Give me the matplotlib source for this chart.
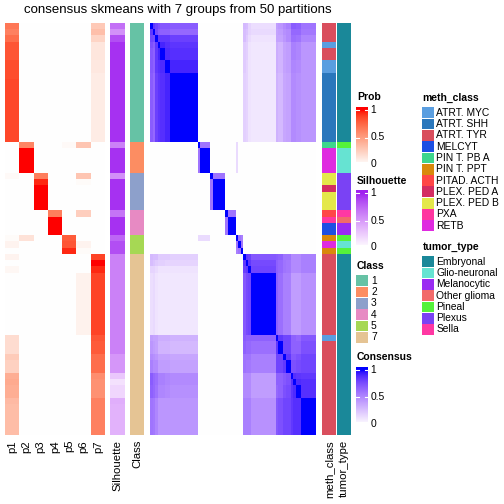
import numpy as np
import matplotlib
matplotlib.use("Agg")
import matplotlib.pyplot as plt
from matplotlib.colors import ListedColormap, to_rgb
from matplotlib.patches import Rectangle

plt.rcParams['font.family'] = ['Liberation Sans', 'DejaVu Sans']

# ---- data (66 samples, top to bottom) ----
classes = [1]*19 + [2]*5 + [3]*6 + [4]*4 + [5]*3 + [7]*29

p1 = ([0.68, 0.64, 0.72, 0.82, 0.82, 0.82, 0.85, 0.85, 0.85] + [0.87]*10
      + [0]*5 + [0.03] + [0]*5 + [0]*4 + [0.02, 0.06, 0]
      + [0.06, 0, 0.04] + [0]*10 + [0.18]*3 + [0.27, 0.24, 0.24]
      + [0.42, 0.44, 0.42, 0.42] + [0.36] + [0.34]*5)
p2 = [0]*19 + [0.62, 1, 1, 1, 1] + [0]*6 + [0]*4 + [0.15, 0, 0] + [0]*29
p3 = [0]*19 + [0]*5 + [0.65, 0.95, 1, 1, 1, 1] + [0]*4 + [0]*3 + [0]*29
p4 = [0]*19 + [0]*5 + [0]*6 + [0.65, 1, 1, 1] + [0]*3 + [0]*29
p5 = [0]*19 + [0.03, 0, 0, 0, 0] + [0]*6 + [0]*4 + [0.8, 0.82, 0.95] + [0]*29
p6 = ([0]*19 + [0.3, 0, 0, 0, 0] + [0.3, 0.02, 0, 0, 0, 0] + [0.25, 0, 0, 0]
      + [0, 0.06, 0.02] + [0]*3 + [0.07]*10 + [0]*16)
p7 = ([0.28, 0.33, 0.22, 0.13, 0.13, 0.13, 0.12, 0.12] + [0.1]*11
      + [0]*5 + [0]*6 + [0]*4 + [0]*3
      + [0.88, 1.0, 0.95] + [0.88]*10 + [0.82, 0.8, 0.8] + [0.72]*3
      + [0.58, 0.56, 0.56, 0.56] + [0.64]*6)

silhouette = ([0.70, 0.55, 0.85] + [0.95]*16 + [0.62] + [0.95]*4
              + [0.55] + [0.95]*5 + [0.68] + [0.95]*3 + [0.75, 0.85, 0.85]
              + [0.62]*16 + [0.52]*3 + [0.28, 0.15, 0.2, 0.2] + [0.4] + [0.38]*5)

meth_class = (['ATRT. TYR']*3 + ['ATRT. MYC'] + ['ATRT. TYR']*2 + ['ATRT. MYC']*2
              + ['ATRT. SHH']*11 + ['PIN T. PB A'] + ['RETB']*4
              + ['PLEX. PED B']*2 + ['PLEX. PED A'] + ['PLEX. PED B']*3
              + ['PITAD. ACTH', 'PXA'] + ['MELCYT']*2
              + ['PIN T. PPT', 'RETB', 'PIN T. PPT']
              + ['ATRT. TYR']*13 + ['ATRT. MYC'] + ['ATRT. TYR']*15)
tumor_type = (['Embryonal']*19 + ['Pineal'] + ['Glio-neuronal']*4 + ['Plexus']*6
              + ['Sella', 'Other glioma'] + ['Melanocytic']*2
              + ['Pineal', 'Glio-neuronal', 'Pineal'] + ['Embryonal']*29)

# consensus: samples fall in sub-clusters, values given between sub-clusters
sub_sizes = [1, 1, 1, 1, 2, 2, 11,   # class 1
             1, 4,                   # class 2
             1, 5,                   # class 3
             1, 3,                   # class 4
             1, 1, 1,                # class 5
             1, 1, 1, 10, 1, 2, 1, 2, 1, 1, 2, 6]  # class 7

cons_c1 = [[1.00, 0.85, 0.80, 0.75, 0.72, 0.72, 0.70],
           [0.85, 1.00, 0.78, 0.70, 0.68, 0.68, 0.65],
           [0.80, 0.78, 1.00, 0.85, 0.85, 0.85, 0.82],
           [0.75, 0.70, 0.85, 1.00, 0.92, 0.88, 0.86],
           [0.72, 0.68, 0.85, 0.92, 1.00, 0.90, 0.88],
           [0.72, 0.68, 0.85, 0.88, 0.90, 1.00, 0.92],
           [0.70, 0.65, 0.82, 0.86, 0.88, 0.92, 1.00]]
cons_c7 = [[1.00, 0.85, 0.82, 0.72, 0.70, 0.68, 0.60, 0.60, 0.50, 0.50, 0.50, 0.55],
           [0.85, 1.00, 0.85, 0.78, 0.68, 0.65, 0.60, 0.58, 0.50, 0.50, 0.50, 0.55],
           [0.82, 0.85, 1.00, 0.80, 0.68, 0.65, 0.60, 0.58, 0.50, 0.50, 0.50, 0.55],
           [0.72, 0.78, 0.80, 1.00, 0.68, 0.62, 0.55, 0.55, 0.42, 0.42, 0.42, 0.47],
           [0.70, 0.68, 0.68, 0.68, 1.00, 0.85, 0.80, 0.80, 0.68, 0.68, 0.65, 0.72],
           [0.68, 0.65, 0.65, 0.62, 0.85, 1.00, 0.80, 0.80, 0.68, 0.68, 0.68, 0.75],
           [0.60, 0.60, 0.60, 0.55, 0.80, 0.80, 1.00, 0.85, 0.72, 0.72, 0.75, 0.80],
           [0.60, 0.58, 0.58, 0.55, 0.80, 0.80, 0.85, 1.00, 0.75, 0.75, 0.78, 0.80],
           [0.50, 0.50, 0.50, 0.42, 0.68, 0.68, 0.72, 0.75, 1.00, 0.88, 0.86, 0.85],
           [0.50, 0.50, 0.50, 0.42, 0.68, 0.68, 0.72, 0.75, 0.88, 1.00, 0.90, 0.88],
           [0.50, 0.50, 0.50, 0.42, 0.65, 0.68, 0.75, 0.78, 0.86, 0.90, 1.00, 0.88],
           [0.55, 0.55, 0.55, 0.47, 0.72, 0.75, 0.80, 0.80, 0.85, 0.88, 0.88, 1.00]]
cons_c1_c7 = [[0.30, 0.28, 0.18, 0.14, 0.42, 0.45, 0.50, 0.55, 0.70, 0.70, 0.68, 0.60],
              [0.28, 0.25, 0.18, 0.16, 0.40, 0.42, 0.48, 0.50, 0.65, 0.65, 0.65, 0.58],
              [0.28, 0.22, 0.15, 0.12, 0.40, 0.40, 0.45, 0.50, 0.62, 0.62, 0.60, 0.52],
              [0.22, 0.20, 0.12, 0.10, 0.35, 0.32, 0.40, 0.42, 0.55, 0.55, 0.52, 0.45],
              [0.22, 0.20, 0.12, 0.10, 0.35, 0.32, 0.40, 0.42, 0.55, 0.55, 0.52, 0.45],
              [0.22, 0.18, 0.12, 0.10, 0.35, 0.32, 0.40, 0.42, 0.52, 0.52, 0.50, 0.45],
              [0.20, 0.18, 0.12, 0.10, 0.33, 0.30, 0.38, 0.40, 0.50, 0.50, 0.48, 0.45]]
cons_c2 = [[1, 0.6], [0.6, 1]]
cons_c3 = [[1, 0.6], [0.6, 1]]
cons_c4 = [[1, 0.6], [0.6, 1]]
cons_c5 = [[1, 0.6, 0.55], [0.6, 1, 0.6], [0.55, 0.6, 1]]
cons_c2_c5 = 0.15

meth_colors = {'ATRT. MYC': '#5A9EE0', 'ATRT. SHH': '#2A77BC', 'ATRT. TYR': '#D94E5D',
               'MELCYT': '#1C4FE3', 'PIN T. PB A': '#3DD68C', 'PIN T. PPT': '#D9890C',
               'PITAD. ACTH': '#FF4747', 'PLEX. PED A': '#D42D62', 'PLEX. PED B': '#E4E84A',
               'PXA': '#FF36A0', 'RETB': '#DF2AE0'}
tumor_colors = {'Embryonal': '#1A8899', 'Glio-neuronal': '#66E3D2', 'Melanocytic': '#9A2BF2',
                'Other glioma': '#F26A6A', 'Pineal': '#55F23A', 'Plexus': '#7A42F4',
                'Sella': '#FF38A3'}
class_colors = {1: '#66C2A5', 2: '#FC8D62', 3: '#8DA0CB', 4: '#E78AC3', 5: '#A6D854', 7: '#E5C494'}


# ---- colour ramps from white, interpolated in Lab like colorRamp2 ----
M = np.array([[0.4124, 0.3576, 0.1805], [0.2126, 0.7152, 0.0722], [0.0193, 0.1192, 0.9505]])
WHITE = np.array([0.95047, 1.0, 1.08883])


def to_lab(rgb):
    c = np.asarray(rgb, float)
    c = np.where(c <= 0.04045, c / 12.92, ((c + 0.055) / 1.055) ** 2.4)
    xyz = M @ c / WHITE
    f = np.where(xyz > 0.008856, np.cbrt(xyz), 7.787 * xyz + 16 / 116)
    return np.array([116 * f[1] - 16, 500 * (f[0] - f[1]), 200 * (f[1] - f[2])])


def from_lab(lab):
    L, a, b = lab.T
    fy = (L + 16) / 116
    f = np.stack([fy + a / 500, fy, fy - b / 200], axis=1)
    xyz = np.where(f ** 3 > 0.008856, f ** 3, (f - 16 / 116) / 7.787) * WHITE
    lin = np.clip(xyz @ np.linalg.inv(M).T, 0, 1)
    c = np.where(lin <= 0.0031308, 12.92 * lin, 1.055 * lin ** (1 / 2.4) - 0.055)
    return np.clip(c, 0, 1)


def ramp(color):
    t = np.linspace(0, 1, 256)[:, None]
    lab = (1 - t) * to_lab((1, 1, 1)) + t * to_lab(to_rgb(color))
    return ListedColormap(from_lab(lab))


prob_cmap = ramp('red')
sil_cmap = ramp('#A020F0')
cons_cmap = ramp('blue')

# ---- build consensus matrix ----
n_sub = len(sub_sizes)
S = np.zeros((n_sub, n_sub))
S[0:7, 0:7] = cons_c1
S[7:9, 7:9] = cons_c2
S[9:11, 9:11] = cons_c3
S[11:13, 11:13] = cons_c4
S[13:16, 13:16] = cons_c5
S[16:28, 16:28] = cons_c7
S[0:7, 16:28] = cons_c1_c7
S[16:28, 0:7] = np.array(cons_c1_c7).T
S[7:9, 13] = cons_c2_c5
S[13, 7:9] = cons_c2_c5
grp = np.repeat(np.arange(n_sub), sub_sizes)
consensus = S[np.ix_(grp, grp)]

# ---- figure ----
W = H = 504
fig = plt.figure(figsize=(5.04, 5.04), dpi=100)


def px_axes(x0, y0, x1, y1):
    ax = fig.add_axes([x0 / W, 1 - y1 / H, (x1 - x0) / W, (y1 - y0) / H])
    ax.set_axis_off()
    return ax


top, bottom = 23, 435
prob = np.column_stack([p1, p2, p3, p4, p5, p6, p7])
px_axes(5, top, 105, bottom).imshow(prob, cmap=prob_cmap, vmin=0, vmax=1,
                                    aspect='auto', interpolation='nearest')
px_axes(110, top, 125, bottom).imshow(np.array(silhouette)[:, None], cmap=sil_cmap,
                                      vmin=0, vmax=1, aspect='auto', interpolation='nearest')
px_axes(130, top, 144, bottom).imshow(np.array([[to_rgb(class_colors[c])] for c in classes]),
                                      aspect='auto', interpolation='nearest')
px_axes(150, top, 316, bottom).imshow(consensus, cmap=cons_cmap, vmin=0, vmax=1,
                                      aspect='auto', interpolation='nearest')
px_axes(322, top, 336, bottom).imshow(np.array([[to_rgb(meth_colors[m])] for m in meth_class]),
                                      aspect='auto', interpolation='nearest')
px_axes(337, top, 351, bottom).imshow(np.array([[to_rgb(tumor_colors[t])] for t in tumor_type]),
                                      aspect='auto', interpolation='nearest')

ov = fig.add_axes([0, 0, 1, 1])
ov.set_axis_off()

fig.text(178 / W, 1 - 10 / H, 'consensus skmeans with 7 groups from 50 partitions',
         ha='center', va='center', fontsize=9.5)

col_names = ['p1', 'p2', 'p3', 'p4', 'p5', 'p6', 'p7']
for i, name in enumerate(col_names):
    fig.text((5 + (i + 0.5) * 100 / 7) / W, 1 - 440 / H, name, rotation=90,
             ha='center', va='top', fontsize=8.2)
for x, name in [(117.5, 'Silhouette'), (137, 'Class'), (329, 'meth_class'), (344, 'tumor_type')]:
    fig.text(x / W, 1 - 440 / H, name, rotation=90, ha='center', va='top', fontsize=8.2)


def title(x, y, s):
    ov.text(x, y, s, ha='left', va='center', fontsize=7.5, fontweight='bold')


def color_bar(bar_top, cmap, name):
    title(357, bar_top - 9.5, name)
    grad = np.linspace(1.055, 0.055, 100)[:, None]
    ov.imshow(grad, cmap=cmap, vmin=0, vmax=1, aspect='auto',
              extent=[356, 368, bar_top + 55, bar_top], interpolation='bilinear')
    for v, lab in [(1, '1'), (0.5, '0.5'), (0, '0')]:
        y = bar_top + 3 + (1 - v) * 55
        if v > 0:
            ov.plot([356, 359], [y, y], color='white', lw=0.8)
            ov.plot([365, 368], [y, y], color='white', lw=0.8)
        ov.text(370.5, min(y, bar_top + 57), lab, ha='left', va='center', fontsize=7.4)


def discrete(x, title_y, name, labels, colors):
    title(x + 1, title_y, name)
    for i, lab in enumerate(labels):
        y = title_y + 15 + i * 11.3
        ov.add_patch(Rectangle((x, y - 5.4), 12, 10.8, facecolor=colors[i], edgecolor='none'))
        ov.text(x + 15, y, lab, ha='left', va='center', fontsize=7.4)


color_bar(107, prob_cmap, 'Prob')
color_bar(190, sil_cmap, 'Silhouette')
discrete(356, 265.7, 'Class', [str(k) for k in class_colors], list(class_colors.values()))
color_bar(366.7, cons_cmap, 'Consensus')
discrete(421.5, 97.7, 'meth_class', list(meth_colors), list(meth_colors.values()))
discrete(421.5, 246.7, 'tumor_type', list(tumor_colors), list(tumor_colors.values()))

ov.set_xlim(0, W)
ov.set_ylim(H, 0)

fig.savefig('out.png', dpi=100)
